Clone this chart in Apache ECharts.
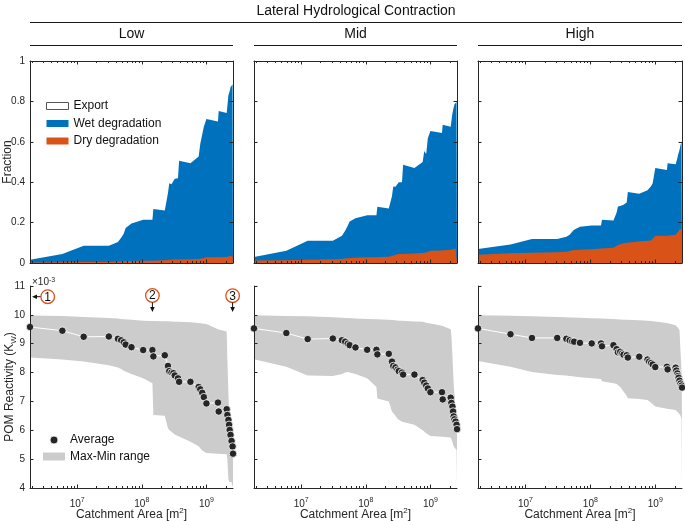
<!DOCTYPE html>
<html><head><meta charset="utf-8">
<script src="https://cdn.jsdelivr.net/npm/echarts@6/dist/echarts.min.js"></script>
<style>html,body{margin:0;padding:0;background:#fff}#c{width:685px;height:521px}</style>
</head><body><div id="c"></div>
<script>
// ---------------- data ----------------
const panelNames = ['Low', 'Mid', 'High'];
// catchment area of each river point [m2]
const catchmentArea = [1.86e6, 5.89e6, 1.26e7, 3.09e7, 4.27e7, 4.79e7, 5.25e7, 5.62e7, 6.92e7, 1.05e8,
  1.46e8, 1.51e8, 2.27e8, 2.54e8, 2.66e8, 2.88e8, 3.09e8, 3.24e8, 3.63e8, 3.78e8,
  5.66e8, 7.59e8, 8.04e8, 8.61e8, 9.12e8, 1.0e9, 1.51e9, 1.55e9, 2.06e9, 2.11e9,
  2.19e9, 2.24e9, 2.29e9, 2.36e9, 2.45e9, 2.54e9, 2.58e9];
// fractions (top row)
const lowDry = [0.003,0.004,0.005,0.005,0.006,0.007,0.008,0.009,0.010,0.011,0.011,0.013,0.013,0.015,0.016,0.016,0.016,0.017,0.017,0.019,0.019,0.020,0.022,0.022,0.026,0.028,0.028,0.030,0.030,0.030,0.032,0.032,0.033,0.034,0.034,0.035,0.035];
const lowWet = [0.013,0.040,0.081,0.081,0.098,0.118,0.137,0.164,0.186,0.203,0.203,0.254,0.247,0.331,0.379,0.374,0.374,0.400,0.403,0.487,0.475,0.507,0.568,0.563,0.649,0.685,0.672,0.723,0.712,0.710,0.798,0.808,0.817,0.836,0.841,0.850,0.855];
const midDry = [0.012,0.014,0.016,0.018,0.020,0.022,0.024,0.025,0.026,0.028,0.029,0.030,0.031,0.035,0.040,0.041,0.042,0.044,0.045,0.046,0.047,0.049,0.050,0.052,0.057,0.061,0.062,0.064,0.065,0.066,0.066,0.068,0.070,0.071,0.072,0.073,0.074];
const midWet = [0.018,0.047,0.094,0.092,0.115,0.138,0.161,0.181,0.196,0.208,0.207,0.248,0.239,0.295,0.339,0.337,0.334,0.356,0.355,0.440,0.423,0.451,0.505,0.488,0.561,0.593,0.581,0.620,0.610,0.634,0.674,0.687,0.700,0.715,0.718,0.724,0.728];
const highDry = [0.041,0.048,0.051,0.053,0.056,0.060,0.063,0.064,0.066,0.068,0.072,0.074,0.075,0.085,0.091,0.093,0.096,0.098,0.100,0.104,0.107,0.110,0.110,0.112,0.120,0.135,0.135,0.137,0.140,0.140,0.148,0.155,0.162,0.165,0.167,0.169,0.170];
const highWet = [0.028,0.043,0.068,0.066,0.074,0.080,0.092,0.101,0.114,0.118,0.114,0.140,0.135,0.165,0.189,0.189,0.189,0.190,0.200,0.247,0.236,0.250,0.252,0.268,0.275,0.335,0.326,0.357,0.349,0.349,0.372,0.380,0.382,0.395,0.418,0.429,0.435];
// POM reactivity (bottom row), in units of 1e-3
const lowAvg = [9.58,9.45,9.24,9.25,9.17,9.12,9.05,8.97,8.88,8.78,8.78,8.56,8.60,8.23,8.05,8.00,7.98,7.90,7.80,7.68,7.68,7.50,7.42,7.30,7.15,6.93,6.96,6.65,6.73,6.53,6.36,6.19,6.01,5.84,5.63,5.44,5.19];
const midAvg = [9.53,9.37,9.16,9.18,9.12,9.07,9.00,8.95,8.87,8.79,8.79,8.63,8.65,8.38,8.23,8.18,8.10,8.05,8.00,7.93,7.93,7.74,7.65,7.55,7.45,7.32,7.32,7.07,7.13,6.95,6.82,6.65,6.48,6.38,6.30,6.19,6.04];
const highAvg = [9.53,9.33,9.20,9.20,9.17,9.12,9.08,9.07,9.03,9.01,9.01,8.91,8.95,8.81,8.70,8.72,8.66,8.62,8.60,8.52,8.55,8.45,8.38,8.33,8.28,8.19,8.20,8.11,8.17,8.07,7.97,7.88,7.82,7.72,7.62,7.55,7.48];
const lowMax = [9.98,9.96,9.93,9.89,9.87,9.86,9.85,9.84,9.83,9.80,9.79,9.79,9.78,9.78,9.77,9.77,9.77,9.76,9.76,9.75,9.74,9.72,9.71,9.70,9.69,9.68,9.50,9.47,9.42,8.50,7.30,6.70,6.30,6.00,5.80,5.55,5.30];
const lowMin = [8.52,8.45,8.38,8.25,8.18,8.12,8.06,8.03,7.95,7.80,7.63,6.53,6.50,6.07,6.00,5.95,5.90,5.85,5.80,5.75,5.60,5.45,5.40,5.30,5.25,5.21,5.19,5.18,5.17,5.00,4.30,4.22,4.20,4.20,4.20,4.20,4.20];
const midMax = [9.99,9.96,9.95,9.92,9.90,9.89,9.89,9.88,9.87,9.86,9.85,9.85,9.83,9.82,9.82,9.81,9.81,9.80,9.80,9.79,9.77,9.76,9.75,9.73,9.72,9.70,9.62,9.60,9.50,9.30,8.60,8.10,7.60,7.20,6.70,6.30,6.10];
const midMin = [8.46,8.20,7.90,7.88,7.95,8.00,8.02,8.00,7.95,7.80,7.50,7.10,7.00,6.65,6.60,6.50,6.40,6.35,6.30,6.25,6.19,6.00,5.96,5.90,5.85,5.80,5.78,5.77,5.75,5.70,5.60,5.50,5.45,5.40,5.35,5.32,5.30];
const highMax = [9.99,9.97,9.95,9.93,9.92,9.91,9.91,9.90,9.90,9.88,9.87,9.87,9.86,9.85,9.85,9.84,9.84,9.83,9.83,9.82,9.81,9.80,9.80,9.79,9.78,9.77,9.72,9.71,9.64,9.62,9.60,9.55,9.50,9.47,9.47,8.00,6.40];
const highMin = [8.40,8.20,8.02,7.92,7.90,7.88,7.87,7.86,7.84,7.80,7.78,7.70,7.63,7.60,7.55,7.50,7.45,7.34,7.20,7.11,7.08,7.05,7.00,6.95,6.90,6.82,6.75,6.71,6.70,6.68,6.66,6.65,6.60,6.55,6.50,6.40,6.36];
// axis ticks
const xMin = 1.86e6, xMax = 2.58e9;
const xMajorTicks = [1e7, 1e8, 1e9];
const xMinorTicks = [2e6,3e6,4e6,5e6,6e6,7e6,8e6,9e6,2e7,3e7,4e7,5e7,6e7,7e7,8e7,9e7,2e8,3e8,4e8,5e8,6e8,7e8,8e8,9e8,2e9];

const dryData = [lowDry, midDry, highDry];
const wetData = [lowWet, midWet, highWet];
const avgData = [lowAvg, midAvg, highAvg];
const maxData = [lowMax, midMax, highMax];
const minData = [lowMin, midMin, highMin];

// ---------------- style ----------------
const FONT = '"Liberation Sans", Arial, Helvetica, sans-serif';
const AX = '#262626';
const BLUE = '#0072BD', ORANGE = '#D95319', GRAY = '#cccccc';
const lefts = [30, 254, 478], widths = [203, 203, 204];
const TOP1 = 61, TOP2 = 286, H = 202;

const grid = [], xAxis = [], yAxis = [], series = [];
lefts.forEach((l, p) => grid.push({left: l, top: TOP1, width: widths[p], height: H, outerBoundsMode: 'none', containLabel: false}));
lefts.forEach((l, p) => grid.push({left: l, top: TOP2, width: widths[p], height: H, outerBoundsMode: 'none', containLabel: false}));

const supRich = {
  b: {fontSize: 10, color: AX, fontFamily: FONT, lineHeight: 15},
  s: {fontSize: 7, color: AX, fontFamily: FONT, verticalAlign: 'top'}
};
function addX(g, pos, labels, minor, name) {
  xAxis.push({
    type: 'log', logBase: 10, gridIndex: g, min: xMin, max: xMax, position: pos, z: 5,
    axisLine: {show: !minor, onZero: false, lineStyle: {color: AX, width: 1}},
    axisTick: {show: true, inside: true, length: minor ? 2 : 3.5,
      customValues: minor ? xMinorTicks : xMajorTicks, lineStyle: {color: AX, width: 1}},
    axisLabel: {show: labels && !minor, customValues: xMajorTicks, margin: 9,
      formatter: v => '{b|10}{s|' + Math.round(Math.log10(v)) + '}', rich: supRich},
    splitLine: {show: false}, minorTick: {show: false},
    name: name || '', nameLocation: 'middle', nameGap: 19, nameMoveOverlap: false,
    nameTextStyle: {fontSize: 12, color: AX, fontFamily: FONT, lineHeight: 16,
      rich: {sup: {fontSize: 8, color: AX, fontFamily: FONT, verticalAlign: 'top'}}}
  });
  return xAxis.length - 1;
}
function addY(g, pos, min, max, interval, labels, name, gap) {
  yAxis.push({
    type: 'value', gridIndex: g, min: min, max: max, interval: interval, position: pos, z: 5,
    axisLine: {show: true, onZero: false, lineStyle: {color: AX, width: 1}},
    axisTick: {show: true, inside: true, length: 3.5, lineStyle: {color: AX, width: 1}},
    axisLabel: {show: labels, fontSize: 10, color: AX, fontFamily: FONT, margin: 5},
    splitLine: {show: false},
    name: name || '', nameLocation: 'middle', nameGap: gap || 17, nameMoveOverlap: false,
    nameTextStyle: {fontSize: 12, color: AX, fontFamily: FONT, lineHeight: 16,
      rich: {sub: {fontSize: 8, color: AX, fontFamily: FONT, verticalAlign: 'bottom'}}}
  });
  return yAxis.length - 1;
}

panelNames.forEach((pn, p) => {
  // ---- top row: fractions (areas drawn back to front, no stacking) ----
  const gx = addX(p, 'bottom', false, false);
  addX(p, 'bottom', false, true);
  addX(p, 'top', false, false);
  addX(p, 'top', false, true);
  const gy = addY(p, 'left', 0, 1, 0.2, p === 0, p === 0 ? 'Fraction' : '', 14);
  addY(p, 'right', 0, 1, 0.2, false);
  const base = {type: 'line', xAxisIndex: gx, yAxisIndex: gy, symbol: 'none',
    lineStyle: {width: 0}, silent: true, animation: false};
  // export fills the remainder up to 1 (white)
  series.push(Object.assign({}, base, {name: 'Export', z: 1,
    itemStyle: {color: '#ffffff'}, areaStyle: {color: '#ffffff', opacity: 0, origin: 'start'},
    data: catchmentArea.map((a, i) => [a, 1])}));
  series.push(Object.assign({}, base, {name: 'Wet degradation', z: 2,
    itemStyle: {color: BLUE}, areaStyle: {color: BLUE, opacity: 1, origin: 'start'},
    data: catchmentArea.map((a, i) => [a, dryData[p][i] + wetData[p][i]])}));
  series.push(Object.assign({}, base, {name: 'Dry degradation', z: 3,
    itemStyle: {color: ORANGE}, areaStyle: {color: ORANGE, opacity: 1, origin: 'start'},
    data: catchmentArea.map((a, i) => [a, dryData[p][i]])}));

  // ---- bottom row: POM reactivity ----
  const bx = addX(3 + p, 'bottom', true, false, 'Catchment Area [m{sup|2}]');
  addX(3 + p, 'bottom', false, true);
  const by = addY(3 + p, 'left', 4, 11, 1, p === 0, p === 0 ? 'POM Reactivity (K{sub|W})' : '', 12);
  const bb = {type: 'line', xAxisIndex: bx, yAxisIndex: by, symbol: 'none', silent: true, animation: false};
  series.push(Object.assign({}, bb, {name: 'Max-Min range', z: 1,
    lineStyle: {width: 0}, itemStyle: {color: GRAY}, areaStyle: {color: GRAY, opacity: 1, origin: 'start'},
    data: catchmentArea.map((a, i) => [a, maxData[p][i]])}));
  series.push(Object.assign({}, bb, {name: 'rangeMin' + p, z: 2,
    lineStyle: {width: 0}, itemStyle: {color: '#ffffff'}, areaStyle: {color: '#ffffff', opacity: 1, origin: 'start'},
    data: catchmentArea.map((a, i) => [a, minData[p][i]])}));
  series.push(Object.assign({}, bb, {name: 'Average', symbol: 'circle', symbolSize: 7.5, z: 4,
    lineStyle: {color: '#ffffff', width: 1},
    itemStyle: {color: '#262626', borderColor: '#ffffff', borderWidth: 0.8},
    data: catchmentArea.map((a, i) => [a, avgData[p][i]])}));
});

// ---------------- annotations ----------------
const graphic = [];
function txt(x, y, text, size, extra) {
  graphic.push({type: 'text', x: x, y: y, z: 10, style: Object.assign({text: text, fill: '#111',
    fontSize: size, fontFamily: FONT, align: 'center', verticalAlign: 'middle'}, extra || {})});
}
function hline(x1, x2, y) {
  graphic.push({type: 'line', z: 10, shape: {x1: x1, y1: y, x2: x2, y2: y}, style: {stroke: '#1a1a1a', lineWidth: 1}});
}
txt(356, 11, 'Lateral Hydrological Contraction', 14);
hline(30, 682, 22.5);
panelNames.forEach((pn, p) => {
  txt(lefts[p] + widths[p] / 2, 34, pn, 14);
  hline(lefts[p], lefts[p] + widths[p], 45.5);
});
txt(32, 282, '×10{s|-3}', 10, {align: 'left', fill: AX,
  rich: {s: {fontSize: 7, fontFamily: FONT, fill: AX, verticalAlign: 'top'}}});
function marker(cx, cy, label) {
  graphic.push({type: 'circle', z: 10, shape: {cx: cx, cy: cy, r: 6.8}, style: {fill: '#fff', stroke: ORANGE, lineWidth: 1.3}});
  txt(cx, cy + 0.5, label, 12);
}
marker(47.7, 296.7, '1');
graphic.push({type: 'line', z: 10, shape: {x1: 40.5, y1: 296.7, x2: 35, y2: 296.7}, style: {stroke: '#111', lineWidth: 1}});
graphic.push({type: 'polygon', z: 10, shape: {points: [[32, 296.7], [37, 294.4], [37, 299]]}, style: {fill: '#111'}});
marker(152.4, 295.5, '2');
graphic.push({type: 'line', z: 10, shape: {x1: 152.4, y1: 302.5, x2: 152.4, y2: 308}, style: {stroke: '#111', lineWidth: 1}});
graphic.push({type: 'polygon', z: 10, shape: {points: [[152.4, 312], [150.1, 307], [154.7, 307]]}, style: {fill: '#111'}});
marker(232.6, 295.7, '3');
graphic.push({type: 'line', z: 10, shape: {x1: 232.6, y1: 302.5, x2: 232.6, y2: 308}, style: {stroke: '#111', lineWidth: 1}});
graphic.push({type: 'polygon', z: 10, shape: {points: [[232.6, 312], [230.3, 307], [234.9, 307]]}, style: {fill: '#111'}});

const chart = echarts.init(document.getElementById('c'), null, {renderer: 'canvas'});
chart.setOption({
  animation: false,
  textStyle: {fontFamily: FONT},
  grid: grid, xAxis: xAxis, yAxis: yAxis, series: series, graphic: graphic,
  legend: [
    {orient: 'vertical', left: 41, top: 94, itemWidth: 22, itemHeight: 7, itemGap: 3.5, selectedMode: false,
     textStyle: {fontSize: 12, color: '#111', fontFamily: FONT, lineHeight: 14},
     data: [
       {name: 'Export', icon: 'rect', itemStyle: {color: '#ffffff', borderColor: '#555', borderWidth: 1}},
       {name: 'Wet degradation', icon: 'rect', itemStyle: {color: BLUE}},
       {name: 'Dry degradation', icon: 'rect', itemStyle: {color: ORANGE}}
     ]},
    {orient: 'vertical', left: 38, top: 428, itemWidth: 22, itemHeight: 8, itemGap: 2.5, selectedMode: false,
     textStyle: {fontSize: 12, color: '#111', fontFamily: FONT, lineHeight: 14},
     data: [
       {name: 'Average', icon: 'circle', itemStyle: {color: '#262626', borderColor: '#fff', borderWidth: 0.8}},
       {name: 'Max-Min range', icon: 'rect', itemStyle: {color: GRAY}}
     ]}
  ]
});
</script></body></html>
